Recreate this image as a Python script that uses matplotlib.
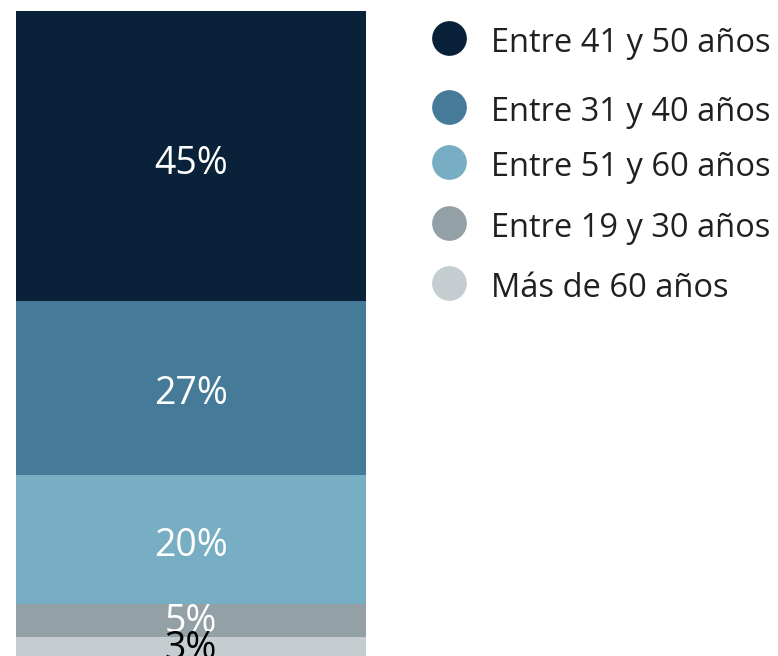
import matplotlib
matplotlib.use("Agg")
import matplotlib.pyplot as plt
import numpy as np

plt.rcParams['font.family'] = ['Open Sans', 'DejaVu Sans']

categories = ["Entre 41 y 50 años", "Entre 31 y 40 años", "Entre 51 y 60 años",
              "Entre 19 y 30 años", "Más de 60 años"]
values = [45, 27, 20, 5, 3]
labels = ["45%", "27%", "20%", "5%", "3%"]
colors = ["#0A2239", "#457B98", "#77AEC3", "#93A1A6", "#C5CDD0"]
label_colors = ["white", "white", "white", "white", "black"]

W, H = 778, 656
fig = plt.figure(figsize=(W / 100, H / 100), dpi=100)
ax = fig.add_axes([16 / W, 0, 350 / W, (H - 11) / H])

bottoms = np.concatenate([[0], np.cumsum(values)[:-1]])
ax.bar([0] * len(values), values, bottom=bottoms, width=1.0, color=colors,
       edgecolor="none")

# label baseline offsets below segment centre (pixels)
label_shift_px = [18, 16, 16, 11.5, 13]
for b, v, lab, lc, s in zip(bottoms, values, labels, label_colors, label_shift_px):
    ax.annotate(lab, xy=(0, b + v / 2), xytext=(0, -s * 0.72),
                textcoords="offset points", ha="center", va="baseline",
                color=lc, fontsize=27, annotation_clip=False)
ax.set_xlim(-0.5, 0.5)
ax.set_ylim(100, 0)
ax.axis("off")

# legend
legend_y = [38, 107, 162, 223, 283]
for cat, col, ly in zip(categories, colors, legend_y):
    fy = 1 - ly / H
    fig.add_artist(plt.Line2D([449 / W], [fy], marker="o", markersize=25,
                              color=col, markeredgewidth=0, linestyle="none",
                              transform=fig.transFigure))
    fig.text(491 / W, 1 - (ly + 14) / H, cat, ha="left", va="baseline",
             fontsize=23.5, color="#231F20")

fig.savefig("out.png", dpi=100)
